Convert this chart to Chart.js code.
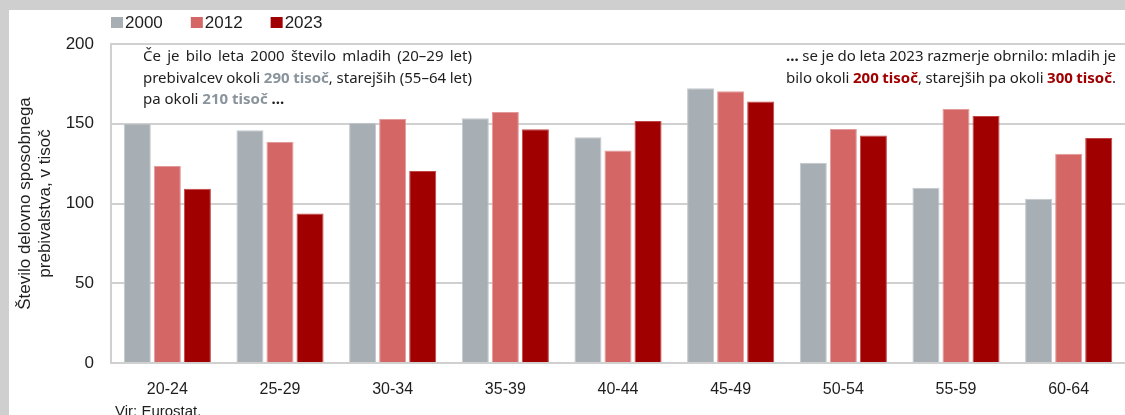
<!DOCTYPE html>
<html>
<head>
<meta charset="utf-8">
<script src="https://cdn.jsdelivr.net/npm/chart.js@4/dist/chart.umd.min.js"></script>
<style>
    html, body { margin: 0; padding: 0; background: #cfcfcf; overflow: hidden; }
    #wrap { position: absolute; left: 9px; top: 10px; width: 1116px; height: 405px; background: #fff; }
</style>
</head>
<body>
<div id="wrap"><canvas id="myChart" width="1116" height="405"></canvas></div>
<script>
    'use strict';

    var categories = ['20-24', '25-29', '30-34', '35-39', '40-44', '45-49', '50-54', '55-59', '60-64'];
    var years = ['2000', '2012', '2023'];
    var values2000 = [150.2, 146.0, 150.7, 153.4, 141.5, 172.2, 125.6, 109.9, 103.0];
    var values2012 = [123.5, 138.6, 153.0, 157.4, 133.3, 170.3, 146.7, 159.2, 131.2];
    var values2023 = [109.2, 93.8, 120.4, 146.5, 151.7, 164.0, 142.7, 154.9, 141.0];
    var yTicks = [0, 50, 100, 150, 200];
    var yTitle = ['Število delovno sposobnega', 'prebivalstva, v tisoč'];
    var source = 'Vir: Eurostat.';

    // annotation lines: [text, kind] where kind n = normal, g = grey bold, r = red bold, b = bold
    var noteLeft = [
        [['Če je bilo leta 2000 število mladih (20–29 let)', 'n']],
        [['prebivalcev okoli ', 'n'], ['290 tisoč', 'g'], [', starejših (55–64 let)', 'n']],
        [['pa okoli ', 'n'], ['210 tisoč', 'g'], [' ...', 'b']]
    ];
    var noteRight = [
        [['...', 'b'], [' se je do leta 2023 razmerje obrnilo: mladih je', 'n']],
        [['bilo okoli ', 'n'], ['200 tisoč', 'r'], [', starejših pa okoli ', 'n'], ['300 tisoč', 'r'], ['.', 'n']]
    ];

    var colors = ['#a7aeb4', '#d46666', '#a00000'];
    var edges = ['#c3c8cc', '#e59a9a', '#c24545'];
    var gridColor = '#d0d0d0';
    var textColor = '#1e1e1e';
    var axisFont = '"Liberation Sans", Arial, sans-serif';
    var noteFont = '"Noto Sans", sans-serif';

    function styleOf(kind) {
        if (kind === 'g') return { font: 'bold 15px ' + noteFont, color: '#8a949c' };
        if (kind === 'r') return { font: 'bold 15px ' + noteFont, color: '#a00000' };
        if (kind === 'b') return { font: 'bold 15px ' + noteFont, color: textColor };
        return { font: '15px ' + noteFont, color: textColor };
    }

    // split runs into words (a word may hold pieces of several styles)
    function toWords(line) {
        var words = [];
        var cur = [];
        line.forEach(function (run) {
            var parts = run[0].split(' ');
            parts.forEach(function (p, i) {
                if (i > 0) {
                    if (cur.length) words.push(cur);
                    cur = [];
                }
                if (p.length) cur.push({ text: p, kind: run[1] });
            });
        });
        if (cur.length) words.push(cur);
        return words;
    }

    function drawLine(ctx, line, x, y, width, justify) {
        var words = toWords(line);
        var total = 0;
        words.forEach(function (w) {
            w.width = 0;
            w.forEach(function (piece) {
                ctx.font = styleOf(piece.kind).font;
                piece.width = ctx.measureText(piece.text).width;
                w.width += piece.width;
            });
            total += w.width;
        });
        ctx.font = styleOf('n').font;
        var gap = ctx.measureText(' ').width;
        if (justify && words.length > 1) gap = (width - total) / (words.length - 1);
        var cx = x;
        words.forEach(function (w) {
            w.forEach(function (piece) {
                var s = styleOf(piece.kind);
                ctx.font = s.font;
                ctx.fillStyle = s.color;
                ctx.fillText(piece.text, cx, y);
                cx += piece.width;
            });
            cx += gap;
        });
    }

    var extras = {
        id: 'extras',
        afterDraw: function (chart) {
            var ctx = chart.ctx;
            ctx.save();
            ctx.textBaseline = 'middle';
            ctx.textAlign = 'left';

            // legend
            var lx = 102;
            chart.data.datasets.forEach(function (ds) {
                ctx.fillStyle = ds.backgroundColor;
                ctx.fillRect(lx, 7, 12, 11);
                ctx.font = '17px ' + axisFont;
                ctx.fillStyle = textColor;
                ctx.fillText(ds.label, lx + 14, 13);
                lx += 14 + ctx.measureText(ds.label).width + 28;
            });

            // notes
            noteLeft.forEach(function (line, i) {
                drawLine(ctx, line, 134, 47 + i * 21.5, 329, i < noteLeft.length - 1);
            });
            noteRight.forEach(function (line, i) {
                drawLine(ctx, line, 777, 47 + i * 21.5, 330, true);
            });

            // source
            ctx.font = '15px ' + axisFont;
            ctx.fillStyle = textColor;
            ctx.textBaseline = 'top';
            ctx.fillText(source, 106, 394);
            ctx.restore();
        }
    };

    var series = [values2000, values2012, values2023];

    new Chart(document.getElementById('myChart'), {
        type: 'bar',
        data: {
            labels: categories,
            datasets: years.map(function (year, i) {
                return {
                    label: year,
                    data: series[i],
                    backgroundColor: colors[i],
                    borderColor: edges[i],
                    borderWidth: 1,
                    categoryPercentage: 0.8,
                    barPercentage: 0.9
                };
            })
        },
        options: {
            responsive: false,
            animation: false,
            layout: { padding: { top: 34, right: 0, bottom: 0, left: 0 } },
            plugins: {
                legend: { display: false },
                tooltip: { enabled: false }
            },
            scales: {
                x: {
                    grid: { display: false, drawTicks: false },
                    border: { display: true, color: gridColor, width: 2 },
                    ticks: { color: textColor, padding: 17, font: { family: axisFont, size: 16 } },
                    afterFit: function (axis) { axis.height = 52; }
                },
                y: {
                    min: 0,
                    max: 200,
                    afterBuildTicks: function (axis) {
                        axis.ticks = yTicks.map(function (v) { return { value: v }; });
                    },
                    grid: { color: gridColor, lineWidth: 2, drawTicks: false },
                    border: { display: true, color: gridColor, width: 2 },
                    ticks: { color: textColor, padding: 17, font: { family: axisFont, size: 17 } },
                    title: {
                        display: true,
                        text: yTitle,
                        color: textColor,
                        font: { family: axisFont, size: 17 },
                        padding: { top: 6, bottom: 0 }
                    },
                    afterFit: function (axis) { axis.width = 102; }
                }
            }
        },
        plugins: [extras]
    });
</script>
</body>
</html>
